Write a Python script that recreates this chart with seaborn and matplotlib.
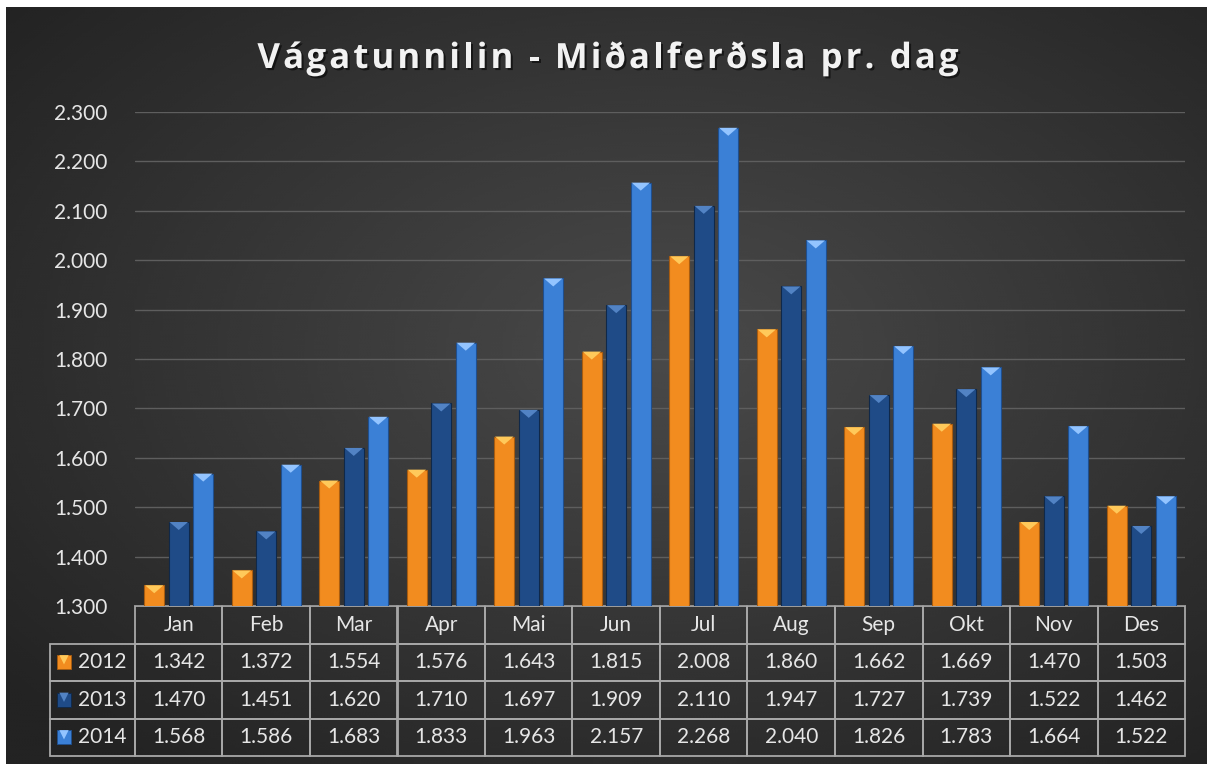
import numpy as np
import pandas as pd
import matplotlib
matplotlib.use("Agg")
import matplotlib.pyplot as plt
import matplotlib.patheffects as pe
from matplotlib.patches import Polygon
from matplotlib.table import Table
import seaborn as sns

# ---------------------------------------------------------------------
# Data: average daily traffic through Vágatunnilin
# ---------------------------------------------------------------------
months = ["Jan", "Feb", "Mar", "Apr", "Mai", "Jun",
          "Jul", "Aug", "Sep", "Okt", "Nov", "Des"]
years = ["2012", "2013", "2014"]
traffic_2012 = [1342, 1372, 1554, 1576, 1643, 1815, 2008, 1860, 1662, 1669, 1470, 1503]
traffic_2013 = [1470, 1451, 1620, 1710, 1697, 1909, 2110, 1947, 1727, 1739, 1522, 1462]
traffic_2014 = [1568, 1586, 1683, 1833, 1963, 2157, 2268, 2040, 1826, 1783, 1664, 1522]
y_ticks = list(range(1300, 2301, 100))

title = "Vágatunnilin - Miðalferðsla pr. dag"

bar_colors = {"2012": "#f28c1f", "2013": "#1f4b87", "2014": "#3b80d6"}
top_colors = {"2012": "#ffc95a", "2013": "#5283c4", "2014": "#93c4ff"}
edge_colors = {"2012": "#a85c10", "2013": "#0f2849", "2014": "#1f4f8f"}
text_color = "#e6e6e6"
line_color = "#a8a8a8"


def fmt(v):
    return f"{v:,}".replace(",", ".")


rows = []
for year, vals in zip(years, [traffic_2012, traffic_2013, traffic_2014]):
    for m, v in zip(months, vals):
        rows.append({"Mánaður": m, "Ferðsla": v, "Ár": year})
df = pd.DataFrame(rows)

sns.set_theme(style="white")
plt.rcParams["font.family"] = ["Lato", "DejaVu Sans"]

W, H = 1207, 764
fig = plt.figure(figsize=(W / 100, H / 100), dpi=100, facecolor="white")

# dark radial background
bg = fig.add_axes([6 / W, 0, 1 - 6 / W, 1 - 7 / H], zorder=-5)
yy, xx = np.mgrid[0:1:300j, 0:1:400j]
r = np.sqrt(((xx - 0.55) / 0.75) ** 2 + ((yy - 0.45) / 0.75) ** 2)
shade = np.clip(0.29 - 0.16 * r, 0.14, 0.30)
bg.imshow(shade, cmap="gray", vmin=0, vmax=1, aspect="auto", interpolation="bicubic")
bg.axis("off")

ax_l, ax_r, ax_t, ax_b = 135, 1185, 112, 606
ax = fig.add_axes([ax_l / W, 1 - ax_b / H, (ax_r - ax_l) / W, (ax_b - ax_t) / H])
ax.set_facecolor("none")

sns.barplot(data=df, x="Mánaður", y="Ferðsla", hue="Ár", order=months,
            hue_order=years, palette=bar_colors, saturation=1,
            width=0.84, gap=0.18, legend=False, ax=ax)

ax.set_ylim(1300, 2300)
ax.set_yticks(y_ticks)
ax.set_yticklabels([fmt(v) for v in y_ticks])
ax.set_xticks([])
ax.set_xlabel("")
ax.set_ylabel("")
ax.tick_params(axis="y", length=0, pad=20, labelsize=15, labelcolor=text_color)
for s in ax.spines.values():
    s.set_visible(False)
ax.yaxis.grid(True, color="#5e5e5e", lw=1)
ax.set_axisbelow(True)

# bevel triangle on the top of every bar
dy = (2300 - 1300) / (ax_b - ax_t)
for year, cont in zip(years, ax.containers):
    for bar in cont:
        bar.set_edgecolor(edge_colors[year])
        bar.set_linewidth(0.8)
        x0, w = bar.get_x(), bar.get_width()
        top = bar.get_y() + bar.get_height()
        tri = Polygon([(x0 + w * 0.04, top), (x0 + w * 0.96, top),
                       (x0 + w / 2, top - 8 * dy)], closed=True,
                      facecolor=top_colors[year], edgecolor="none", zorder=3)
        ax.add_patch(tri)

# data table under the plot
aw, ah = ax_r - ax_l, ax_b - ax_t
lab_w, col_w = 85, aw / len(months)
tab_h = 150
tab = Table(ax, bbox=[-lab_w / aw, -tab_h / ah, (lab_w + aw) / aw, tab_h / ah])
n_rows = len(years) + 1
rh = 1.0 / n_rows
corner = tab.add_cell(0, 0, lab_w, rh, text="", facecolor="none")
corner.visible_edges = ""
for j, m in enumerate(months):
    tab.add_cell(0, j + 1, col_w, rh, text=m, loc="center",
                 facecolor="none", edgecolor=line_color)
for i, (year, vals) in enumerate(zip(years, [traffic_2012, traffic_2013, traffic_2014])):
    tab.add_cell(i + 1, 0, lab_w, rh, text=year, loc="right",
                 facecolor="none", edgecolor=line_color)
    for j, v in enumerate(vals):
        tab.add_cell(i + 1, j + 1, col_w, rh, text=fmt(v), loc="center",
                     facecolor="none", edgecolor=line_color)
tab.auto_set_font_size(False)
tab.set_fontsize(15)
for cell in tab.get_celld().values():
    cell.set_linewidth(1.3)
    cell.get_text().set_color(text_color)
ax.add_table(tab)

# legend keys in the row label cells
row_h = tab_h / n_rows / ah
for i, year in enumerate(years):
    yc = -row_h * (i + 1.5)
    xk = (64 - ax_l) / aw
    ax.scatter([xk], [yc], marker="s", s=100, color=bar_colors[year],
               edgecolors=edge_colors[year], linewidths=0.6,
               transform=ax.transAxes, clip_on=False, zorder=5)
    ax.scatter([xk], [yc + 0.005], marker="v", s=45, color=top_colors[year],
               edgecolors="none", transform=ax.transAxes, clip_on=False, zorder=6)

# keep the categorical range fixed (the scatters above would stretch it)
ax.set_xlim(-0.5, len(months) - 0.5)
ax.set_ylim(1300, 2300)

# title with widened letter spacing, like the original
title_kw = dict(fontsize=25, fontweight="bold", family=["Open Sans", "DejaVu Sans"],
                color="#f2f2f2")
renderer = fig.canvas.get_renderer()


def text_width(s):
    t = fig.text(0, 0, s + "|", **title_kw)
    t2 = fig.text(0, 0, "|", **title_kw)
    w = t.get_window_extent(renderer).width - t2.get_window_extent(renderer).width
    t.remove()
    t2.remove()
    return w


spacing = 3.1
total = text_width(title) + spacing * (len(title) - 1)
x_start = 608 - total / 2
shadow = [pe.withSimplePatchShadow(offset=(1.5, -1.5), shadow_rgbFace="black", alpha=0.55)]
for i, ch in enumerate(title):
    x = x_start + text_width(title[:i]) + spacing * i
    fig.text(x / W, 1 - 68 / H, ch, ha="left", va="baseline",
             path_effects=shadow, **title_kw)

fig.savefig("out.png", dpi=100, facecolor=fig.get_facecolor())
